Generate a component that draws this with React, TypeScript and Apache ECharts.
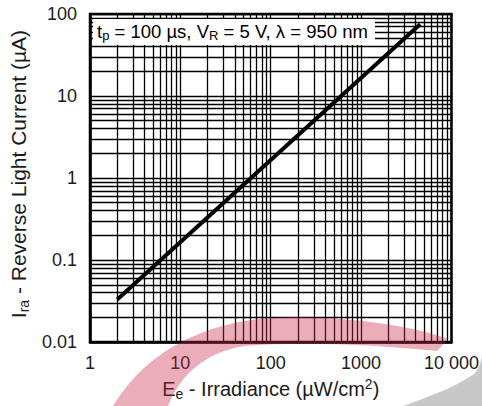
import React, { useEffect, useRef } from "react";
import * as echarts from "echarts";

const xMajor = [1, 10, 100, 1000, 10000];
const xTickLabels = ["1", "10", "100", "1000", "10 000"];
const yMajor = [0.01, 0.1, 1, 10, 100];
const yTickLabels = ["0.01", "0.1", "1", "10", "100"];
const xMinor = [2, 3, 4, 5, 6, 7, 8, 9, 20, 30, 40, 50, 60, 70, 80, 90, 200, 300, 400, 500, 600, 700, 800, 900, 2000, 3000, 4000, 5000, 6000, 7000, 8000, 9000];
const yMinor = [0.02, 0.03, 0.04, 0.05, 0.06, 0.07, 0.08, 0.09, 0.2, 0.3, 0.4, 0.5, 0.6, 0.7, 0.8, 0.9, 2, 3, 4, 5, 6, 7, 8, 9, 20, 30, 40, 50, 60, 70, 80, 90];
const irradiance = [2, 4500];
const reverseCurrent = [0.033, 75];

const FONT = "'Liberation Sans', Arial, Helvetica, sans-serif";
const TXT = "#1a1a1a";

const pinkD =
  "M113,406 C150,345 215,318 290,317 C360,317 420,328 448,339 L437,351 C380,345 300,341 245,346 C205,352 180,375 168,406 Z";
const grayD = "M403,406 C435,395 463,383 475,373 C480,367 482,360 482,352 L482,406 Z";

echarts.graphic.registerShape("pinkArc", echarts.graphic.extendPath(pinkD, {}) as any);
echarts.graphic.registerShape("grayArc", echarts.graphic.extendPath(grayD, {}) as any);

const mkRich = (size: number, sub: number) => ({
  n: { fontSize: size, fontFamily: FONT, color: TXT, lineHeight: size + 4, verticalAlign: "middle" as const },
  s: { fontSize: sub, fontFamily: FONT, color: TXT, lineHeight: sub, verticalAlign: "bottom" as const },
  p: { fontSize: sub, fontFamily: FONT, color: TXT, lineHeight: sub, verticalAlign: "top" as const },
});
const xNameRich = mkRich(20, 14);
const yNameRich = mkRich(21, 14);
const noteRich = mkRich(18.5, 13);

export default function App() {
  const ref = useRef<HTMLDivElement>(null);
  useEffect(() => {
    if (!ref.current) return;
    const chart = echarts.init(ref.current, null, { renderer: "svg" });
    const lineData = irradiance.map((x, i) => [x, reverseCurrent[i]]);
    const option: any = {
      animation: false,
      backgroundColor: "#fff",
      grid: {
        left: 90,
        top: 14,
        right: 28,
        bottom: 62,
        show: true,
        borderColor: "#000",
        borderWidth: 2.5,
        backgroundColor: "transparent",
      },
      xAxis: {
        type: "log",
        logBase: 10,
        min: 1,
        max: 10000,
        name: "{n|E}{s|e}{n| - Irradiance (µW/cm}{p|2}{n|)}",
        nameLocation: "middle",
        nameGap: 32,
        nameTextStyle: { rich: xNameRich },
        axisLine: { show: true, lineStyle: { color: "#000", width: 2.5 } },
        axisTick: { show: false },
        axisLabel: {
          fontSize: 18,
          fontFamily: FONT,
          color: TXT,
          margin: 12,
          formatter: (v: number) => {
            const i = xMajor.findIndex((m) => Math.abs(Math.log10(m) - Math.log10(v)) < 1e-6);
            return i >= 0 ? xTickLabels[i] : "";
          },
        },
        splitLine: { show: true, lineStyle: { color: "#000", width: 1.3 } },
      },
      yAxis: {
        type: "log",
        logBase: 10,
        min: 0.01,
        max: 100,
        name: "{n|I}{s|ra}{n| - Reverse Light Current (µA)}",
        nameLocation: "middle",
        nameGap: 56,
        nameTextStyle: { rich: yNameRich, padding: [0, 0, 0, 8] },
        axisLine: { show: true, lineStyle: { color: "#000", width: 2.5 } },
        axisTick: { show: false },
        axisLabel: {
          fontSize: 18,
          fontFamily: FONT,
          color: TXT,
          margin: 13,
          formatter: (v: number) => {
            const i = yMajor.findIndex((m) => Math.abs(Math.log10(m) - Math.log10(v)) < 1e-6);
            return i >= 0 ? yTickLabels[i] : "";
          },
        },
        splitLine: { show: true, lineStyle: { color: "#000", width: 1.3 } },
      },
      series: [
        {
          type: "line",
          data: lineData,
          symbol: "none",
          lineStyle: { color: "#000", width: 4 },
          z: 5,
          markLine: {
            silent: true,
            symbol: ["none", "none"],
            label: { show: false },
            lineStyle: { color: "#000", width: 1.3, type: "solid" },
            data: [
              ...xMinor.map((v) => ({ xAxis: v })),
              ...yMinor.map((v) => ({ yAxis: v })),
            ],
            z: 2,
          },
        },
      ],
      graphic: [
        {
          type: "rect",
          z: 50,
          shape: { x: 93, y: 19, width: 282, height: 26 },
          style: { fill: "#fff" },
        },
        {
          type: "text",
          z: 51,
          x: 97,
          y: 31,
          style: {
            text: "{n|t}{s|p}{n| = 100 µs, V}{s|R}{n| = 5 V, λ = 950 nm}",
            rich: noteRich,
            verticalAlign: "middle",
            align: "left",
          },
        },
        {
          type: "pinkArc",
          z: 60,
          silent: true,
          style: { fill: "rgb(200,40,70)", opacity: 0.38 },
        },
        {
          type: "grayArc",
          z: 60,
          silent: true,
          style: { fill: "rgb(200,200,200)" },
        },
      ],
    };
    chart.setOption(option);
    return () => chart.dispose();
  }, []);
  return (
    <div
      ref={ref}
      style={{ position: "fixed", left: 0, top: 0, width: 482, height: 406 }}
    />
  );
}
